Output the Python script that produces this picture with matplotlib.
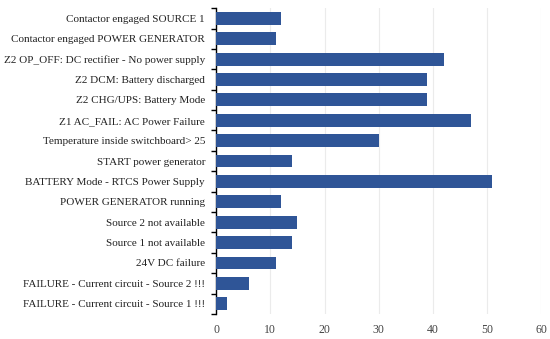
import numpy as np
import matplotlib
matplotlib.use("Agg")
import matplotlib.pyplot as plt

labels = [
    "Contactor engaged SOURCE 1",
    "Contactor engaged POWER GENERATOR",
    "Z2 OP_OFF: DC rectifier - No power supply",
    "Z2 DCM: Battery discharged",
    "Z2 CHG/UPS: Battery Mode",
    "Z1 AC_FAIL: AC Power Failure",
    "Temperature inside switchboard> 25",
    "START power generator",
    "BATTERY Mode - RTCS Power Supply",
    "POWER GENERATOR running",
    "Source 2 not available",
    "Source 1 not available",
    "24V DC failure",
    "FAILURE - Current circuit - Source 2 !!!",
    "FAILURE - Current circuit - Source 1 !!!",
]
counts = [12, 11, 42, 39, 39, 47, 30, 14, 51, 12, 15, 14, 11, 6, 2]
xticks = [0, 10, 20, 30, 40, 50, 60]

plt.rcParams['font.family'] = ['Liberation Serif', 'DejaVu Serif']

fig = plt.figure(figsize=(5.5, 3.39), dpi=100)
ax = fig.add_axes([0.393, 0.074, 0.591, 0.902])

y = np.arange(len(labels))
ax.barh(y, counts, height=0.63, color='#2f5597', zorder=3)

ax.set_ylim(len(labels) - 0.5, -0.5)
ax.set_xlim(0, 60)
ax.set_xticks(xticks)
ax.set_yticks(y)
ax.set_yticklabels(labels, fontsize=8, color='#222222')
ax.set_yticks(np.arange(len(labels) + 1) - 0.5, minor=True)
ax.tick_params(axis='y', which='major', length=0, pad=8)
ax.tick_params(axis='y', which='minor', length=3.5, width=1, direction='out', color='black')
ax.tick_params(axis='x', length=0, labelsize=8.5, labelcolor='#444444', pad=7)

ax.grid(axis='x', color='#ebebeb', linewidth=0.8, zorder=0)
for s in ['top', 'right', 'bottom']:
    ax.spines[s].set_visible(False)
ax.spines['left'].set_color('black')
ax.spines['left'].set_linewidth(1)

fig.savefig("out.png", dpi=100)
